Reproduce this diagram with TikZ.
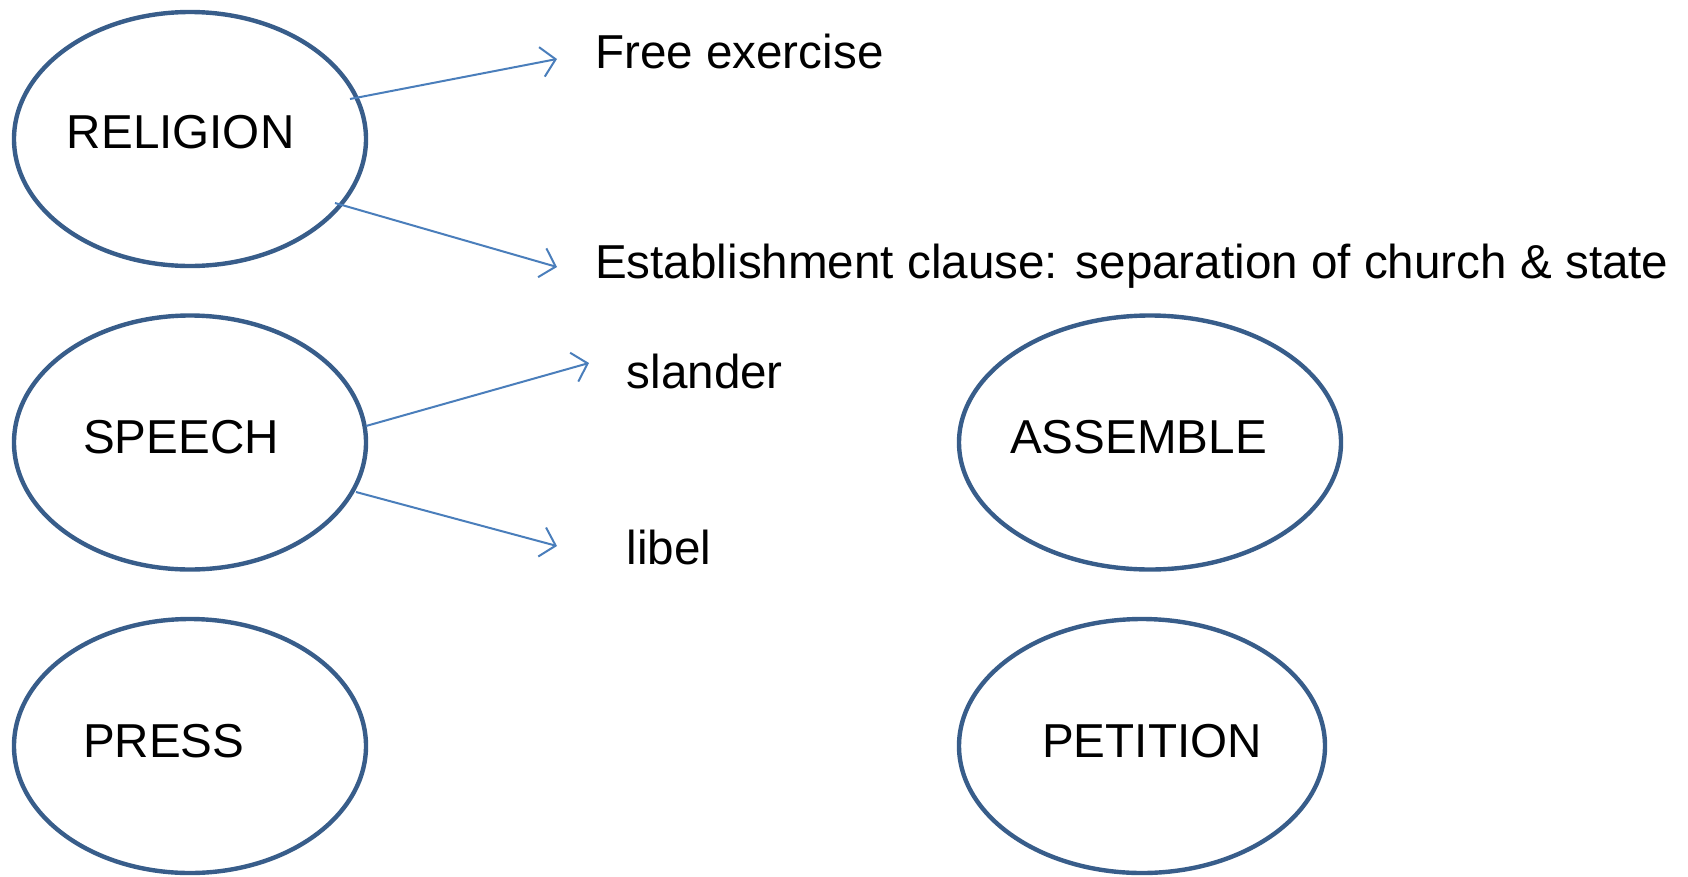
\documentclass[tikz,border=0pt]{standalone}
\usepackage{fontspec}
\setmainfont{Liberation Sans}
\usetikzlibrary{shapes.geometric,arrows.meta}
\definecolor{ellcol}{HTML}{385D8A}
\definecolor{arrcol}{HTML}{4A7EBB}
\tikzset{
  oval/.style={ellipse, draw=ellcol, line width=4.4pt, inner sep=0pt, fill=white},
  txt/.style={anchor=base west, inner sep=0pt, font=\fontsize{47.6}{58}\selectfont, text=black},
  conn/.style={draw=arrcol, line width=2pt, -{Straight Barb[length=14pt,width=30pt,line width=2pt]}}
}
\begin{document}
\begin{tikzpicture}[x=1pt,y=-1pt]
\useasboundingbox (0,0) rectangle (1688,876);
% ellipses
\node[oval, minimum width=352pt, minimum height=254pt] (rel) at (190,139) {};
\node[oval, minimum width=352pt, minimum height=254pt] (spe) at (190,442.5) {};
\node[oval, minimum width=352pt, minimum height=254pt] (pre) at (190,746) {};
\node[oval, minimum width=382pt, minimum height=254pt] (ass) at (1150,442.5) {};
\node[oval, minimum width=366pt, minimum height=254pt] (pet) at (1142,746) {};
% ellipse labels
\node[txt] (relt) at (66.7,148.6) {RELIGION};
\node[txt] (spet) at (82.9,453) {SPEECH};
\node[txt] (pret) at (82.9,757) {PRESS};
\node[txt] (asst) at (1010,453) {ASSEMBLE};
\node[txt] (pett) at (1042,757) {PETITION};
% item labels
\node[txt] (free) at (595,68) {Free exercise};
\node[txt] (est) at (595,278) {Establishment clause: separation of church \& state};
\node[txt] (sla) at (626.5,388.6) {slander};
\node[txt] (lib) at (626.5,564) {libel};
% connector end points
\coordinate (a1s) at (350,99);  \coordinate (a1e) at (557,59);
\coordinate (a2s) at (335,203); \coordinate (a2e) at (557,267);
\coordinate (a3s) at (366,426); \coordinate (a3e) at (589,363);
\coordinate (a4s) at (356,492); \coordinate (a4e) at (557,546);
\draw[conn] (a1s) -- (a1e);
\draw[conn] (a2s) -- (a2e);
\draw[conn] (a3s) -- (a3e);
\draw[conn] (a4s) -- (a4e);
\end{tikzpicture}
\end{document}
